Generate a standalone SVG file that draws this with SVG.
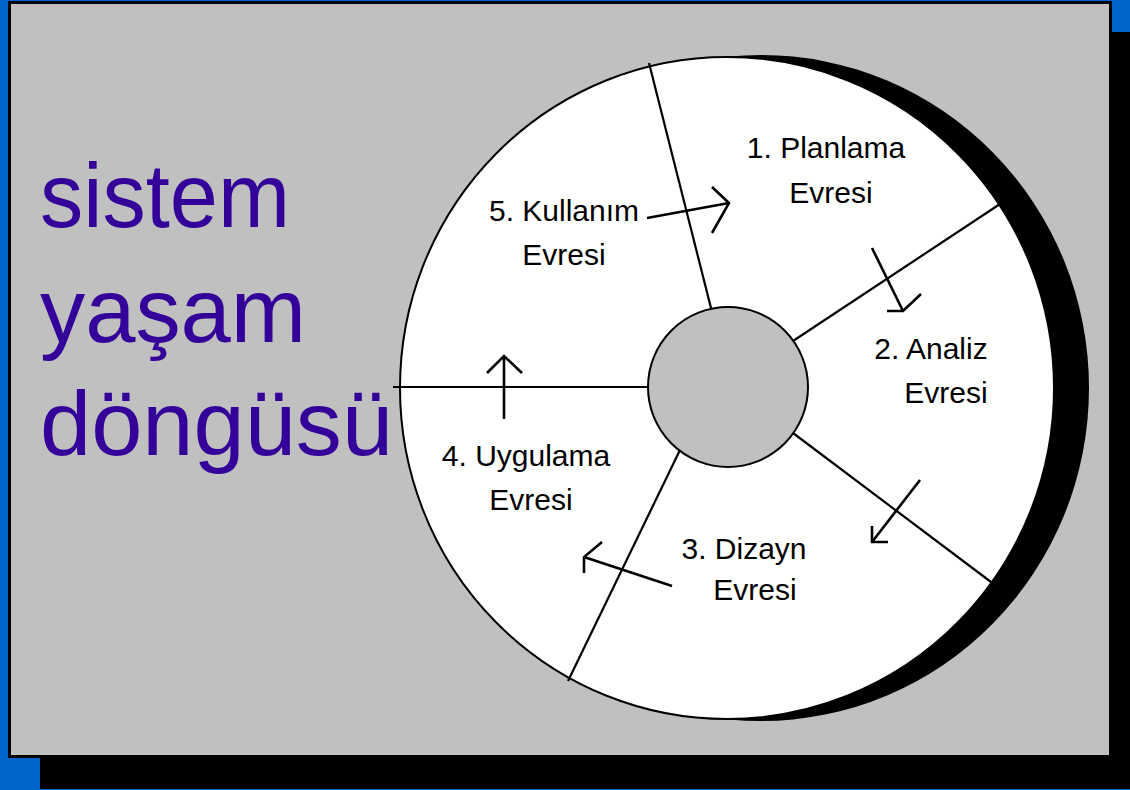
<svg xmlns="http://www.w3.org/2000/svg" width="1130" height="790" viewBox="0 0 1130 790">
<style>
.lbl{font-family:"Liberation Sans",Arial,sans-serif;font-size:30px;fill:#000;text-anchor:middle}
.title{font-family:"Liberation Sans",Arial,sans-serif;font-size:90px;fill:#330099}
.spoke{stroke:#000;stroke-width:2.2;fill:none}
.arr{stroke:#000;stroke-width:2.6;fill:none;stroke-linecap:butt;stroke-linejoin:miter}
</style>
<rect x="0" y="0" width="1130" height="790" fill="#0066cc"/>
<rect x="40" y="32" width="1090" height="757" fill="#000"/>
<rect x="9.5" y="2.5" width="1101" height="754" fill="#c0c0c0" stroke="#000" stroke-width="3"/>
<g id="title">
<text class="title" x="40" y="227" textLength="250" lengthAdjust="spacingAndGlyphs">sistem</text>
<text class="title" x="40" y="342" textLength="266" lengthAdjust="spacingAndGlyphs">yaşam</text>
<text class="title" x="40" y="455" textLength="353" lengthAdjust="spacingAndGlyphs">döngüsü</text>
</g>
<g id="wheel">
<ellipse cx="761" cy="388" rx="328" ry="333" fill="#000"/>
<ellipse cx="727" cy="388" rx="327" ry="331" fill="#fff" stroke="#000" stroke-width="2"/>
</g>
<g id="connectors">
<line class="spoke" x1="649" y1="63" x2="712" y2="312"/>
<line class="spoke" x1="1000" y1="204" x2="793" y2="341"/>
<line class="spoke" x1="793" y1="433" x2="991" y2="582"/>
<line class="spoke" x1="680" y1="450" x2="568" y2="681"/>
<line class="spoke" x1="393" y1="387" x2="649" y2="387"/>
<polyline class="arr" points="647,218 729,203"/>
<polyline class="arr" points="712,187 729,203 712,233"/>
<polyline class="arr" points="872,248 903,311"/>
<polyline class="arr" points="887,311 903,311 921,294"/>
<polyline class="arr" points="920,480 872,542"/>
<polyline class="arr" points="872,526 872,542 888,542"/>
<polyline class="arr" points="672,586 584,557"/>
<polyline class="arr" points="602,542 584,557 584,573"/>
<polyline class="arr" points="504,419 504,356"/>
<polyline class="arr" points="487,373 504,356 522,373"/>
</g>
<g id="hub">
<circle cx="728" cy="387" r="80" fill="#c0c0c0" stroke="#000" stroke-width="2"/>
</g>
<g id="phase1"><text class="lbl" x="826" y="158">1. Planlama</text><text class="lbl" x="831" y="203">Evresi</text></g>
<g id="phase2"><text class="lbl" x="931" y="359">2. Analiz</text><text class="lbl" x="946" y="403">Evresi</text></g>
<g id="phase3"><text class="lbl" x="744" y="559">3. Dizayn</text><text class="lbl" x="755" y="600">Evresi</text></g>
<g id="phase4"><text class="lbl" x="526" y="466">4. Uygulama</text><text class="lbl" x="531" y="510">Evresi</text></g>
<g id="phase5"><text class="lbl" x="564" y="221">5. Kullanım</text><text class="lbl" x="564" y="265">Evresi</text></g>
</svg>
